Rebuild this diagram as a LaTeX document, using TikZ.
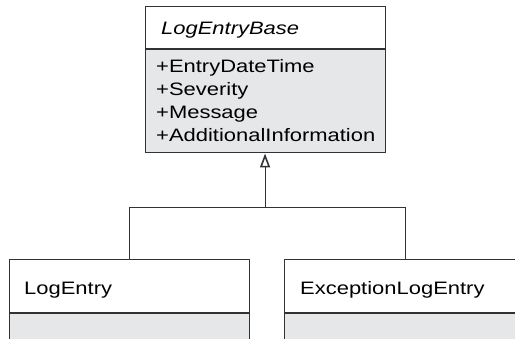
\documentclass[tikz,border=0pt]{standalone}
\usepackage{fontspec}
\setmainfont[FakeStretch=1.22]{Liberation Sans}
\usetikzlibrary{positioning}
\usetikzlibrary{arrows.meta}
\definecolor{attrgray}{RGB}{230,231,233}
\definecolor{umlline}{RGB}{50,50,50}
\newcommand\umlfont[0]{\fontsize{18}{22.8}\selectfont}

\tikzset{
  classhead/.style={draw=umlline, fill=white, line width=1.1pt, inner sep=0pt, minimum height=53pt},
  classbody/.style={draw=umlline, fill=attrgray, line width=1.1pt, inner sep=0pt},
  classtext/.style={anchor=base west, inner sep=0pt, font=\umlfont},
}

\begin{document}
\begin{tikzpicture} [x=1pt,y=-1pt]

\useasboundingbox (0,0) rectangle (515,339);

% base class
\node[classhead, anchor=north west, minimum width=240pt, minimum height=42.5pt] (basehead) at (144.5,5.8) {};
\node[classbody, anchor=north, minimum width=240pt, minimum height=103pt] (basebody) at (basehead.south) {};
\node[classtext, font=\umlfont\itshape] (basename) at (161,34.7) {LogEntryBase};
\foreach \attr [count=\i] in {EntryDateTime, Severity, Message, AdditionalInformation}
  \node[classtext] (attr\i) at (156,{49.9+22.8*\i}) {+\attr};

% derived classes
\node[classhead, anchor=north west, minimum width=240pt] (entryhead) at (9.3,259.3) {};
\node[classbody, anchor=north, minimum width=240pt, minimum height=60pt] (entrybody) at (entryhead.south) {};
\node[classtext] (entryname) at (24,295) {LogEntry};

\node[classhead, anchor=north west, minimum width=242pt] (exhead) at (283.5,259.3) {};
\node[classbody, anchor=north, minimum width=242pt, minimum height=60pt] (exbody) at (exhead.south) {};
\node[classtext] (exname) at (300,295) {ExceptionLogEntry};

% generalisation
\coordinate (join) at (basebody.south |- 0,207.5);
\draw[umlline, line width=1.1pt] (entryhead.north) |- (join) -| (exhead.north);
\draw[umlline, line width=1.1pt, -{Triangle[open, length=14pt, width=10pt, line width=1.6pt]}] (join) -- (basebody.south);

\end{tikzpicture}
\end{document}
